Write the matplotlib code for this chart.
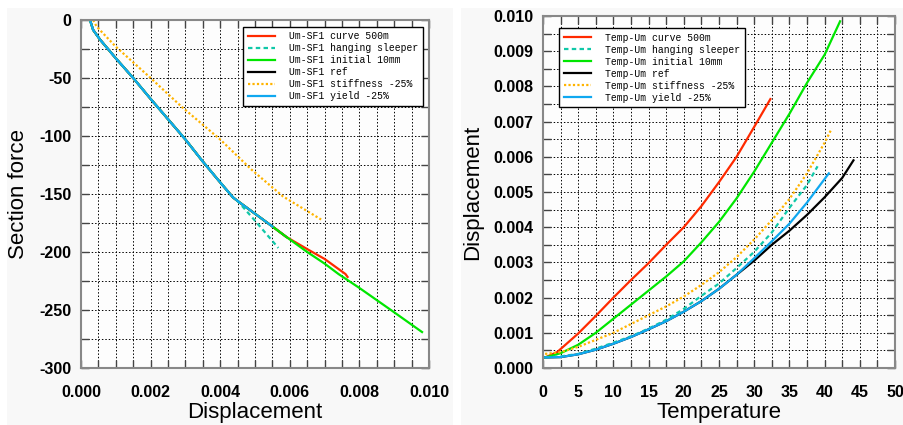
import numpy as np
import matplotlib
matplotlib.use("Agg")
import matplotlib.pyplot as plt
from matplotlib.patches import Rectangle
from matplotlib.ticker import MultipleLocator, FormatStrFormatter

plt.rcParams["font.family"] = ["Liberation Sans", "DejaVu Sans"]
plt.rcParams["axes.unicode_minus"] = False

# ---- left panel: section force vs displacement ----
ref_x = [0.00026, 0.00030, 0.00035, 0.00055, 0.0010, 0.0015, 0.0020, 0.0025, 0.0030,
         0.0035, 0.0040, 0.00437, 0.0045, 0.0050, 0.0055, 0.0059]
ref_y = [0, -4, -8.6, -17, -33, -50, -68, -85.5, -103, -122, -140, -153, -156, -167, -178, -187]

yield_x = ref_x[:-1]
yield_y = ref_y[:-1]

curve_x = ref_x + [0.0065, 0.0070, 0.0076, 0.00766]
curve_y = ref_y + [-197.5, -206, -219, -221.5]

init_x = ref_x + [0.0065, 0.0070, 0.0074, 0.0080, 0.0090, 0.0098]
init_y = ref_y + [-200, -210, -219, -231, -252, -269]

hang_x = ref_x[:13] + [0.0050, 0.00567]
hang_y = ref_y[:13] + [-173, -196.5]

stiff_x = [0.00035, 0.00045, 0.0010, 0.0020, 0.0029, 0.0040, 0.0049, 0.0058, 0.0069]
stiff_y = [0, -5.7, -23, -50, -75, -103, -129, -152, -172]

# ---- right panel: displacement vs temperature ----
t_curve = [0.3, 2, 5, 7.5, 10, 12.5, 15, 17.5, 20, 22.5, 25, 27.5, 30, 32.3]
u_curve = [0.0003, 0.00045, 0.00098, 0.00148, 0.0020, 0.0025, 0.00298, 0.0035, 0.0040,
           0.0046, 0.00528, 0.0060, 0.00685, 0.00764]

t_init = [0.3, 2.5, 5, 7.5, 10, 12.5, 15, 17.5, 20, 22.5, 25, 27.5, 30, 32.5, 35, 37.5, 40, 42.2]
u_init = [0.0003, 0.00042, 0.00066, 0.0010, 0.0014, 0.0018, 0.0022, 0.0026, 0.00303,
          0.00357, 0.00415, 0.00482, 0.00558, 0.0064, 0.00722, 0.0081, 0.0089, 0.00985]

t_stiff = [0.3, 2.5, 5, 7.5, 10, 12.5, 15, 17.5, 20, 22.5, 25, 27.5, 30, 32.5, 35, 37.5, 40, 41]
u_stiff = [0.0004, 0.00045, 0.0006, 0.0008, 0.0010, 0.00125, 0.0015, 0.00175, 0.00203,
           0.00236, 0.00272, 0.00315, 0.00365, 0.0042, 0.0048, 0.00553, 0.0064, 0.0068]

t_hang = [0.3, 2.5, 5, 7.5, 10, 12.5, 15, 17.5, 20, 22.5, 25, 27.5, 30, 32.5, 35, 37.5, 39]
u_hang = [0.0003, 0.00033, 0.0004, 0.00055, 0.00072, 0.0009, 0.00112, 0.00137, 0.00168,
          0.00205, 0.0024, 0.00284, 0.0033, 0.00385, 0.00455, 0.0052, 0.00573]

t_yield = [0.3, 2.5, 5, 7.5, 10, 12.5, 15, 17.5, 20, 22.5, 25, 27.5, 30, 32.5, 35, 37.5, 40.6]
u_yield = [0.0003, 0.00031, 0.00039, 0.00052, 0.00069, 0.00088, 0.0011, 0.00133, 0.0016,
           0.0019, 0.00225, 0.00265, 0.00312, 0.0036, 0.0041, 0.0047, 0.00553]

t_ref = [0.3, 2.5, 5, 7.5, 10, 12.5, 15, 17.5, 20, 22.5, 25, 27.5, 30, 32.5, 35, 37.5, 40, 42.5, 44.1]
u_ref = [0.0003, 0.00031, 0.00039, 0.00052, 0.00069, 0.00088, 0.0011, 0.00133, 0.0016,
         0.0019, 0.00225, 0.00265, 0.00305, 0.0035, 0.0039, 0.00435, 0.00485, 0.0054, 0.0059]

names = ["curve 500m", "hanging sleeper", "initial 10mm", "ref", "stiffness -25%", "yield -25%"]
colors = ["#ff2a00", "#10c8a8", "#00e600", "#000000", "#ffb400", "#10a8f0"]
styles = ["-", (0, (2, 1.5)), "-", "-", (0, (1, 1)), "-"]

fig = plt.figure(figsize=(9.04, 4.25), dpi=100, facecolor="white")
fig.patches.append(Rectangle((7 / 904, 0), 446 / 904, 417 / 425, transform=fig.transFigure,
                             facecolor="#f8f8f8", edgecolor="none", zorder=-10))
fig.patches.append(Rectangle((461 / 904, 0), 443 / 904, 417 / 425, transform=fig.transFigure,
                             facecolor="#f8f8f8", edgecolor="none", zorder=-10))

ax1 = fig.add_axes([81 / 904, 57 / 425, 348 / 904, 348 / 425])
ax2 = fig.add_axes([543 / 904, 57 / 425, 352 / 904, 352 / 425])

left_data = [(curve_x, curve_y), (hang_x, hang_y), (init_x, init_y),
             (ref_x, ref_y), (stiff_x, stiff_y), (yield_x, yield_y)]
right_data = [(t_curve, u_curve), (t_hang, u_hang), (t_init, u_init),
              (t_ref, u_ref), (t_stiff, u_stiff), (t_yield, u_yield)]
order = [3, 0, 2, 1, 4, 5]  # drawing order so blue sits on top like the original

for i in order:
    ax1.plot(left_data[i][0], left_data[i][1], color=colors[i], ls=styles[i], lw=1.6,
             label="Um-SF1 " + names[i])
    ax2.plot(right_data[i][0], right_data[i][1], color=colors[i], ls=styles[i], lw=1.6,
             label="Temp-Um " + names[i])

ax1.set_xlim(0, 0.010)
ax1.set_ylim(-300, 0)
ax1.xaxis.set_major_locator(MultipleLocator(0.002))
ax1.xaxis.set_minor_locator(MultipleLocator(0.0005))
ax1.yaxis.set_major_locator(MultipleLocator(50))
ax1.yaxis.set_minor_locator(MultipleLocator(25))
ax1.xaxis.set_major_formatter(FormatStrFormatter("%.3f"))
ax1.set_xlabel("Displacement", fontsize=16, labelpad=2)
ax1.set_ylabel("Section force", fontsize=16, labelpad=7)

ax2.set_xlim(0, 50)
ax2.set_ylim(0, 0.010)
ax2.xaxis.set_major_locator(MultipleLocator(5))
ax2.xaxis.set_minor_locator(MultipleLocator(2.5))
ax2.yaxis.set_major_locator(MultipleLocator(0.001))
ax2.yaxis.set_minor_locator(MultipleLocator(0.0005))
ax2.yaxis.set_major_formatter(FormatStrFormatter("%.3f"))
ax2.set_xlabel("Temperature", fontsize=16, labelpad=2)
ax2.set_ylabel("Displacement", fontsize=16, labelpad=7)

for ax in (ax1, ax2):
    ax.set_facecolor("#fdfdfd")
    ax.grid(True, which="both", color="black", ls=(0, (1.5, 2)), lw=0.7)
    ax.set_axisbelow(True)
    ax.tick_params(which="both", direction="in", top=True, right=True, length=6,
                   width=1, color="#444444", labelsize=11.5, pad=7)
    ax.tick_params(axis="x", which="both", pad=12)
    for lab in ax.get_xticklabels() + ax.get_yticklabels():
        lab.set_fontweight("bold")
    for s in ax.spines.values():
        s.set_color("#888888")
        s.set_linewidth(1.5)

leg_kw = dict(prop={"family": "Liberation Mono", "size": 7}, frameon=True, fancybox=False,
              edgecolor="black", framealpha=1, handlelength=2.8, handletextpad=1.4,
              labelspacing=0.2, borderpad=0.5, borderaxespad=0)
h1, l1 = ax1.get_legend_handles_labels()
h2, l2 = ax2.get_legend_handles_labels()
idx1 = [l1.index("Um-SF1 " + n) for n in names]
idx2 = [l2.index("Temp-Um " + n) for n in names]
lg1 = ax1.legend([h1[i] for i in idx1], [l1[i] for i in idx1], loc="upper right", **leg_kw)
lg1.set_bbox_to_anchor((0.983, 0.981), transform=ax1.transAxes)
lg2 = ax2.legend([h2[i] for i in idx2], [l2[i] for i in idx2], loc="upper left", **leg_kw)
lg2.set_bbox_to_anchor((0.045, 0.966), transform=ax2.transAxes)
for lg in (lg1, lg2):
    lg.get_frame().set_linewidth(1.0)

fig.savefig("out.png", dpi=100, facecolor=fig.get_facecolor())
